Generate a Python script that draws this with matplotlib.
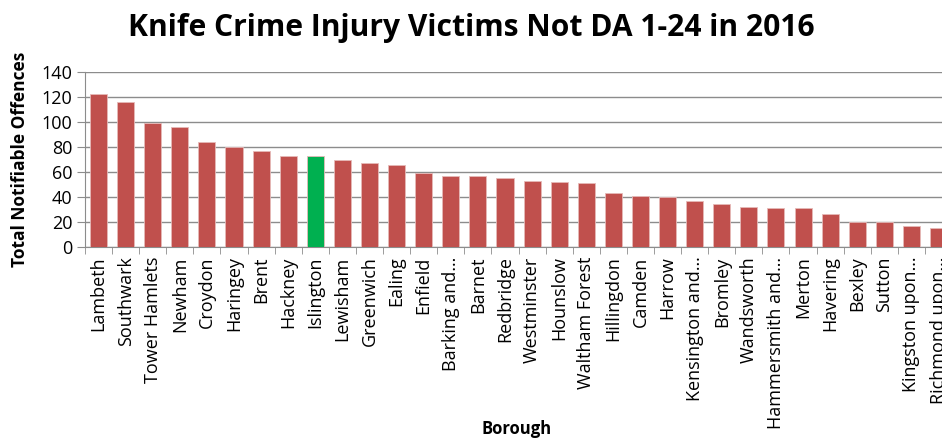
import matplotlib.pyplot as plt

boroughs = ['Lambeth', 'Southwark', 'Tower Hamlets', 'Newham', 'Croydon', 'Haringey',
            'Brent', 'Hackney', 'Islington', 'Lewisham', 'Greenwich', 'Ealing', 'Enfield',
            'Barking and…', 'Barnet', 'Redbridge', 'Westminster', 'Hounslow',
            'Waltham Forest', 'Hillingdon', 'Camden', 'Harrow', 'Kensington and…',
            'Bromley', 'Wandsworth', 'Hammersmith and…', 'Merton', 'Havering', 'Bexley',
            'Sutton', 'Kingston upon…', 'Richmond upon…']
offences = [123, 116, 99, 96, 84, 80, 77, 73, 73, 70, 67, 66, 59, 57, 57, 55, 53, 52,
            51, 43, 41, 40, 37, 34, 32, 31, 31, 26, 20, 20, 17, 15]
highlight = 'Islington'

plt.rcParams['font.family'] = ['Open Sans', 'DejaVu Sans']

fig = plt.figure(figsize=(9.42, 4.38), dpi=100)
# axes run a little past the right edge, like the original export
ax = fig.add_axes([0.0902, 0.4368, 0.9205, 0.398])

colors = ['#00B050' if b == highlight else '#C0504D' for b in boroughs]
x = list(range(len(boroughs)))
ax.bar(x, offences, width=0.63, color=colors, edgecolor='#E6B9B8', linewidth=0.6, zorder=3)

ax.set_xlim(-0.5, len(boroughs) - 0.5)
ax.set_ylim(0, 140)
ax.set_yticks(range(0, 141, 20))
ax.yaxis.grid(True, color='#8C8C8C', linewidth=1.0, zorder=0)
ax.tick_params(axis='y', length=6, color='#8C8C8C', labelsize=13, pad=3)

ax.set_xticks(x)
ax.set_xticklabels(boroughs, rotation=90, fontsize=13)
ax.set_xticks([i - 0.5 for i in range(len(boroughs) + 1)], minor=True)
ax.tick_params(axis='x', which='major', length=0, pad=7)
ax.tick_params(axis='x', which='minor', length=5, color='#8C8C8C')

for s in ['top', 'right']:
    ax.spines[s].set_visible(False)
ax.spines['left'].set_color('#8C8C8C')
ax.spines['bottom'].set_color('#8C8C8C')

fig.text(0.5, 0.935, 'Knife Crime Injury Victims Not DA 1-24 in 2016', ha='center', va='center',
         fontsize=21.6, fontweight='bold')
fig.text(0.021, 0.6355, 'Total Notifiable Offences', rotation=90, ha='center', va='center',
         fontsize=12.5, fontweight='bold')
fig.text(0.548, 0.02, 'Borough', ha='center', va='center', fontsize=12, fontweight='bold')

fig.savefig('out.png', dpi=100)
